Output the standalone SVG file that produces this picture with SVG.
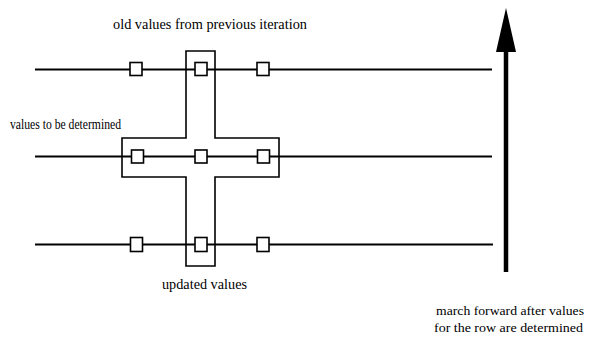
<svg xmlns="http://www.w3.org/2000/svg" width="591" height="344" viewBox="0 0 591 344">
<defs>
<style>
.ln{stroke:#000;stroke-width:1.8;fill:none}
.box{stroke:#000;stroke-width:1.6;fill:none}
.sq{stroke:#000;stroke-width:1.6;fill:#fff}
.t{font-family:"Liberation Serif","Times New Roman",serif;font-size:15px;fill:#000}
.tm{font-family:"Liberation Serif","Times New Roman",serif;font-size:13.5px;fill:#000}
</style>
</defs>
<rect width="591" height="344" fill="#fff"/>
<g id="connectors">
<line class="ln" x1="35" y1="69.5" x2="492" y2="69.5"/>
<line class="ln" x1="35" y1="156.5" x2="492" y2="156.5"/>
<line class="ln" x1="35" y1="244.5" x2="493" y2="244.5"/>
<line x1="506" y1="50" x2="506" y2="272" stroke="#000" stroke-width="4.5"/>
<polygon points="506,8 496,52 516,52" fill="#000"/>
</g>
<g id="stencil">
<path class="box" d="M186,51 H215 V138 H279 V177 H215 V266 H186 V177 H122 V138 H186 Z"/>
</g>
<g id="grid-points">
<rect class="sq" x="130" y="62.5" width="12" height="13"/>
<rect class="sq" x="195" y="62.5" width="12" height="13"/>
<rect class="sq" x="257" y="62.5" width="12" height="13"/>
<rect class="sq" x="131.5" y="150" width="12" height="13"/>
<rect class="sq" x="195" y="150" width="12" height="13"/>
<rect class="sq" x="257.5" y="150" width="12" height="13"/>
<rect class="sq" x="130.5" y="237.5" width="12" height="14"/>
<rect class="sq" x="195" y="237.5" width="12" height="14"/>
<rect class="sq" x="257" y="237.5" width="12" height="14"/>
</g>
<g id="label-old"><text class="t" x="113" y="29" textLength="194" lengthAdjust="spacingAndGlyphs">old values from previous iteration</text></g>
<g id="label-det"><text class="t" x="10" y="129" textLength="111" lengthAdjust="spacingAndGlyphs">values to be determined</text></g>
<g id="label-upd"><text class="t" x="162" y="289" textLength="85" lengthAdjust="spacingAndGlyphs">updated values</text></g>
<g id="label-march">
<text class="tm" x="436" y="315" textLength="148" lengthAdjust="spacingAndGlyphs">march forward after values</text>
<text class="tm" x="434" y="332" textLength="149" lengthAdjust="spacingAndGlyphs">for the row are determined</text>
</g>
</svg>
